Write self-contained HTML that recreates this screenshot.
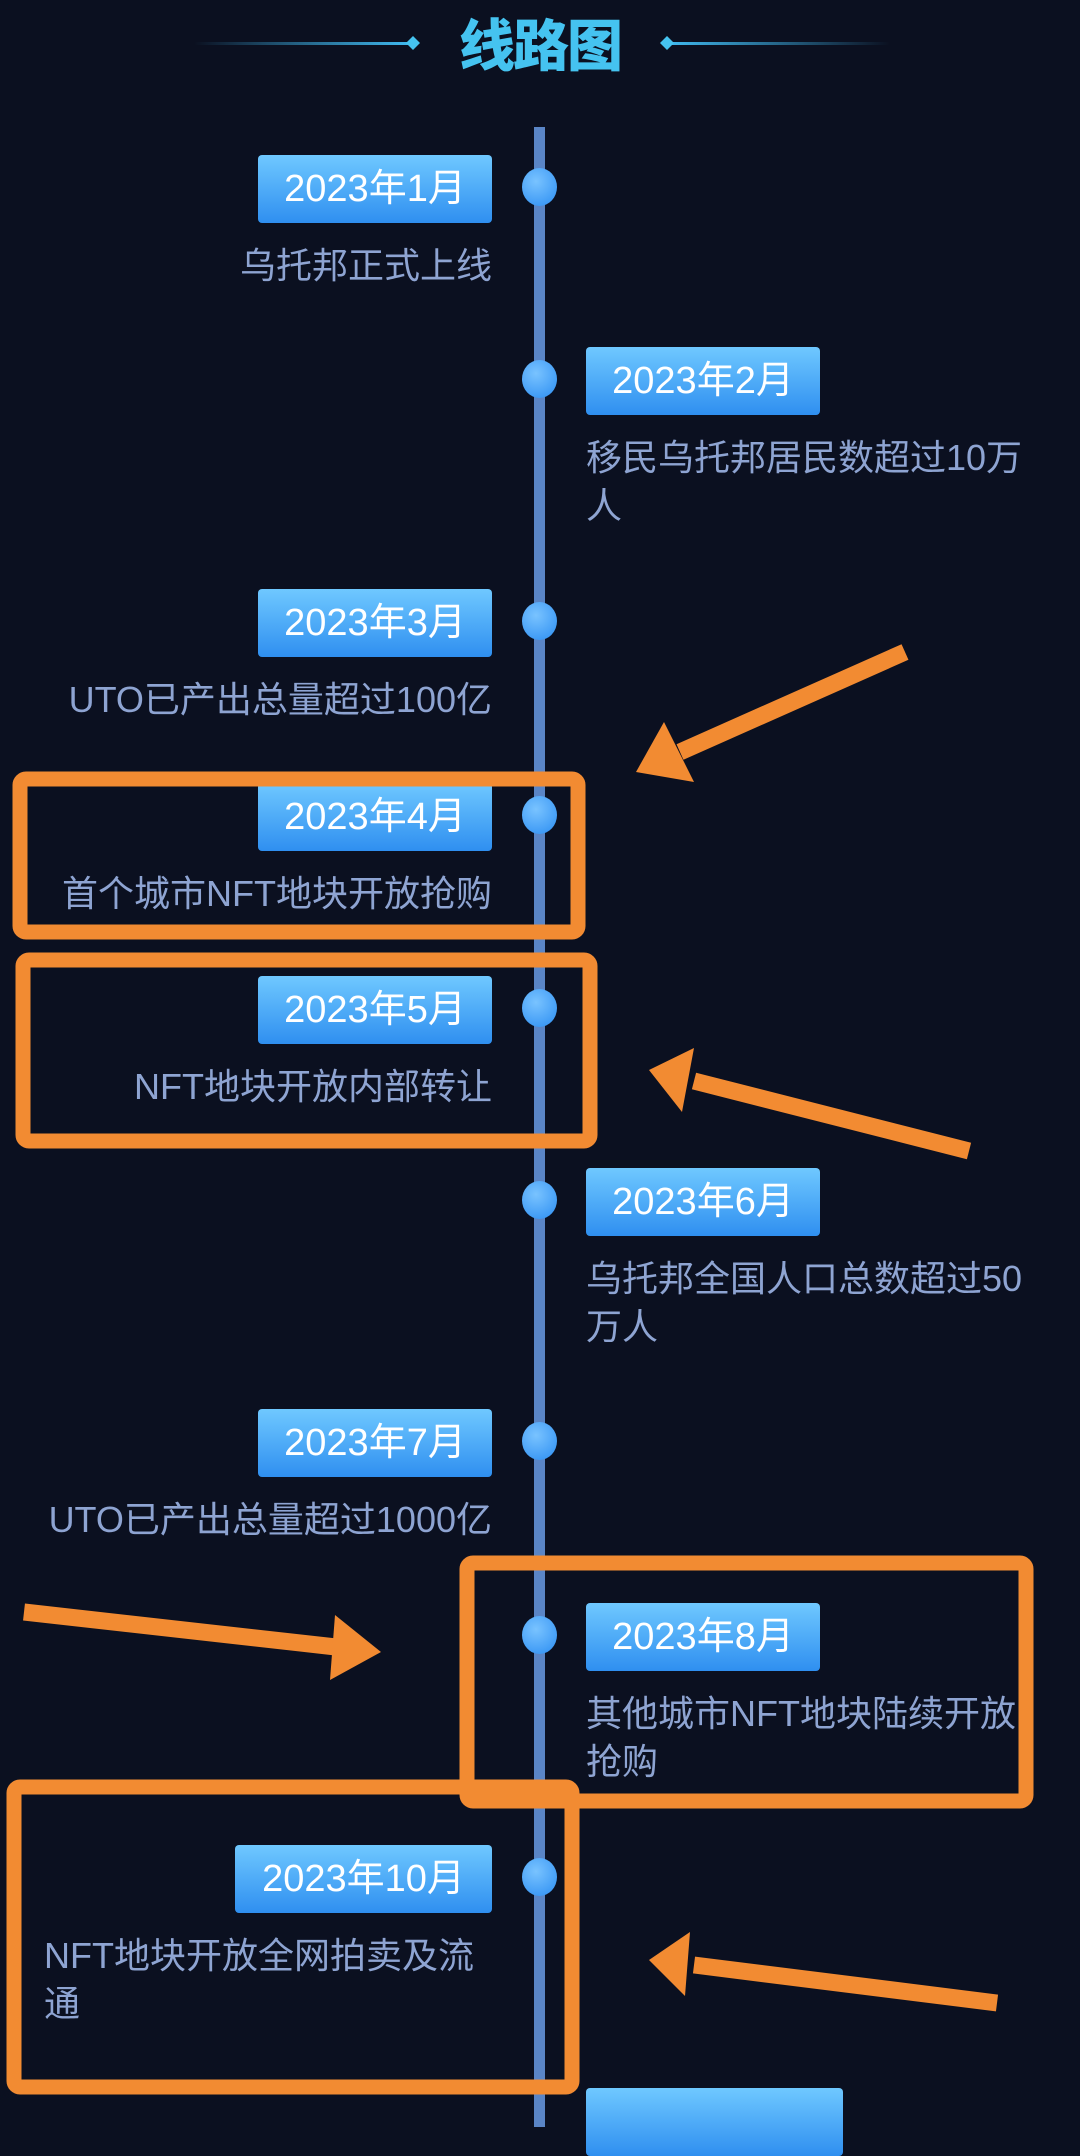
<!DOCTYPE html>
<html><head><meta charset="utf-8"><style>
html,body{margin:0;padding:0}
body{width:1080px;height:2099px;background:#0b1020;position:relative;overflow:hidden;font-family:"Liberation Sans","Noto Sans CJK SC",sans-serif}
.title{position:absolute;left:0;width:1080px;top:8px;text-align:center;font-size:56px;font-weight:900;color:#45c3f0;font-family:"Noto Sans CJK SC","WenQuanYi Zen Hei",sans-serif;line-height:70px;letter-spacing:-2px}
.vline{position:absolute;left:534px;top:127px;width:11px;height:2000px;background:#5a85c6}
.dot{position:absolute;left:522px;width:35px;height:38px;border-radius:50%;background:radial-gradient(circle at 40% 35%,#79c3ff,#2b8df2)}
.date{position:absolute;height:68px;width:234px;border-radius:4px;background:linear-gradient(#6fc8ff,#2f8ff0);color:#fff;font-size:38px;line-height:68px;text-align:center}
.L{left:258px}.R{left:586px}
.desc{position:absolute;color:#8ea4d2;font-size:36px;line-height:48px}
.dl{right:588px;max-width:450px;text-align:right}
.dr{left:586px;width:455px}
svg{position:absolute;left:0;top:0}
</style></head><body>
<svg width="1080" height="100">
<defs><linearGradient id="g1" x1="0" x2="1"><stop offset="0" stop-color="#3fb8ee" stop-opacity="0"/><stop offset="1" stop-color="#3fb8ee"/></linearGradient>
<linearGradient id="g2" x1="1" x2="0"><stop offset="0" stop-color="#3fb8ee" stop-opacity="0"/><stop offset="1" stop-color="#3fb8ee"/></linearGradient></defs>
<rect x="194" y="42" width="214" height="3" fill="url(#g1)"/>
<polygon points="406,43 413,36 420,43 413,50" fill="#45c3f0"/>
<rect x="670" y="42" width="220" height="3" fill="url(#g2)"/>
<polygon points="660,43 667,36 674,43 667,50" fill="#45c3f0"/>
</svg>
<div class="title">线路图</div>
<div class="vline"></div>

<div class="dot" style="top:168px"></div>
<div class="date L" style="top:155px">2023年1月</div>
<div class="desc dl" style="top:242px">乌托邦正式上线</div>

<div class="dot" style="top:360px"></div>
<div class="date R" style="top:347px">2023年2月</div>
<div class="desc dr" style="top:434px">移民乌托邦居民数超过10万人</div>

<div class="dot" style="top:602px"></div>
<div class="date L" style="top:589px">2023年3月</div>
<div class="desc dl" style="top:676px">UTO已产出总量超过100亿</div>

<div class="dot" style="top:796px"></div>
<div class="date L" style="top:783px">2023年4月</div>
<div class="desc dl" style="top:870px">首个城市NFT地块开放抢购</div>

<div class="dot" style="top:989px"></div>
<div class="date L" style="top:976px">2023年5月</div>
<div class="desc dl" style="top:1063px">NFT地块开放内部转让</div>

<div class="dot" style="top:1181px"></div>
<div class="date R" style="top:1168px">2023年6月</div>
<div class="desc dr" style="top:1255px">乌托邦全国人口总数超过50万人</div>

<div class="dot" style="top:1422px"></div>
<div class="date L" style="top:1409px">2023年7月</div>
<div class="desc dl" style="top:1496px">UTO已产出总量超过1000亿</div>

<div class="dot" style="top:1616px"></div>
<div class="date R" style="top:1603px">2023年8月</div>
<div class="desc dr" style="top:1690px">其他城市NFT地块陆续开放抢购</div>

<div class="dot" style="top:1858px"></div>
<div class="date" style="left:235px;width:257px;top:1845px">2023年10月</div>
<div class="desc" style="left:44px;width:440px;top:1932px;text-align:left">NFT地块开放全网拍卖及流通</div>

<div class="date R" style="top:2088px;width:257px"></div>

<svg width="1080" height="2099">
<g fill="none" stroke="#f28b32" stroke-width="15">
<rect x="20" y="779" width="558" height="153" rx="6"/>
<rect x="23" y="960" width="567" height="181" rx="6"/>
<rect x="467" y="1563" width="559" height="238" rx="6"/>
<rect x="14" y="1787" width="558" height="300" rx="6"/>
</g>
<g stroke="#f28b32" stroke-width="17" fill="#f28b32">
<line x1="905" y1="652" x2="680" y2="752"/>
<polygon stroke="none" points="636,772 664,722 694,782"/>
<line x1="969" y1="1151" x2="694" y2="1081"/>
<polygon stroke="none" points="649,1070 694,1048 682,1112"/>
<line x1="24" y1="1612" x2="336" y2="1647"/>
<polygon stroke="none" points="381,1652 335,1615 330,1680"/>
<line x1="997" y1="2003" x2="694" y2="1965"/>
<polygon stroke="none" points="649,1960 690,1932 685,1996"/>
</g>
</svg>
</body></html>
